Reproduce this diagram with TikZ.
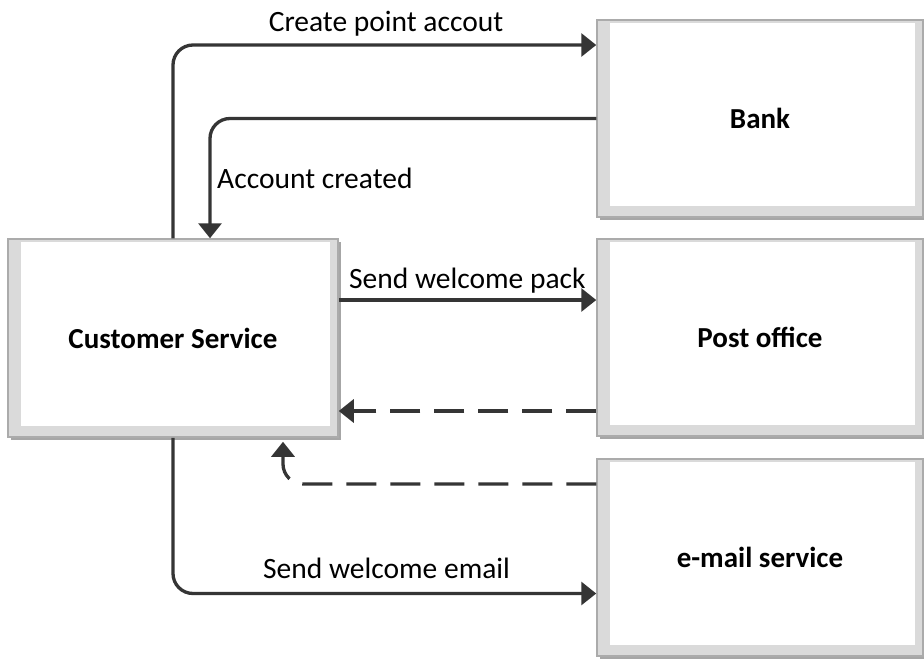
\documentclass[tikz,border=0pt]{standalone}
\usepackage{fontspec}
\setmainfont{Carlito}
\usetikzlibrary{arrows.meta,shadows,calc}
\definecolor{lineC}{HTML}{353535}
\definecolor{bevel}{HTML}{DADADA}
\definecolor{edge}{HTML}{ABABAB}
\begin{document}
\begin{tikzpicture}[x=1pt,y=-1pt,
  box/.style={draw=edge, line width=1.5pt, fill=bevel, minimum height=197pt,
    font=\fontsize{29}{33}\selectfont\bfseries, inner sep=0pt,
    drop shadow={shadow xshift=3pt,shadow yshift=-3pt,opacity=0.35,fill=black},
    path picture={\fill[white] ([xshift=13pt,yshift=11pt]path picture bounding box.south west) rectangle ([xshift=-8pt,yshift=-3pt]path picture bounding box.north east);}},
  arr/.style={draw=lineC, line width=3.3pt, rounded corners=20pt, -{Triangle[length=15pt,width=23pt]}},
  darr/.style={arr, dash pattern=on 30pt off 14pt},
  lbl/.style={font=\fontsize{29.5}{33}\selectfont, inner sep=0pt, text=black}]
\useasboundingbox[fill=white] (0,0) rectangle (924,659);
\node[box, minimum width=330pt, minimum height=198pt] (cs) at (173,338) {Customer Service};
\node[box, minimum width=326pt] (bank) at (760,118.5) {Bank};
\node[box, minimum width=326pt] (post) at (760,337.5) {Post office};
\node[box, minimum width=326pt] (email) at (760,557.5) {e-mail service};
% connectors
\draw[arr] (cs.north) |- ([yshift=73.5pt]bank.west);
\draw[arr] (bank.west) -| ([xshift=37pt]cs.north);
\draw[arr] ([yshift=38pt]cs.east) -- ([yshift=38pt]cs.east -| post.west);
\draw[darr] ([yshift=-73.5pt]post.west) -- ([yshift=-73.5pt]post.west -| cs.east);
\draw[darr] ([yshift=73.5pt]email.west) -| ([xshift=110pt,yshift=-4pt]cs.south);
\draw[arr] (cs.south) |- ([yshift=-36pt]email.west);
% labels
\node[lbl, anchor=base] (l1) at (386,31) {Create point accout};
\node[lbl, anchor=base west] (l2) at (217,188) {Account created};
\node[lbl, anchor=base west] (l3) at (349,288) {Send welcome pack};
\node[lbl, anchor=base west] (l4) at (263,578) {Send welcome email};
\end{tikzpicture}
\end{document}
